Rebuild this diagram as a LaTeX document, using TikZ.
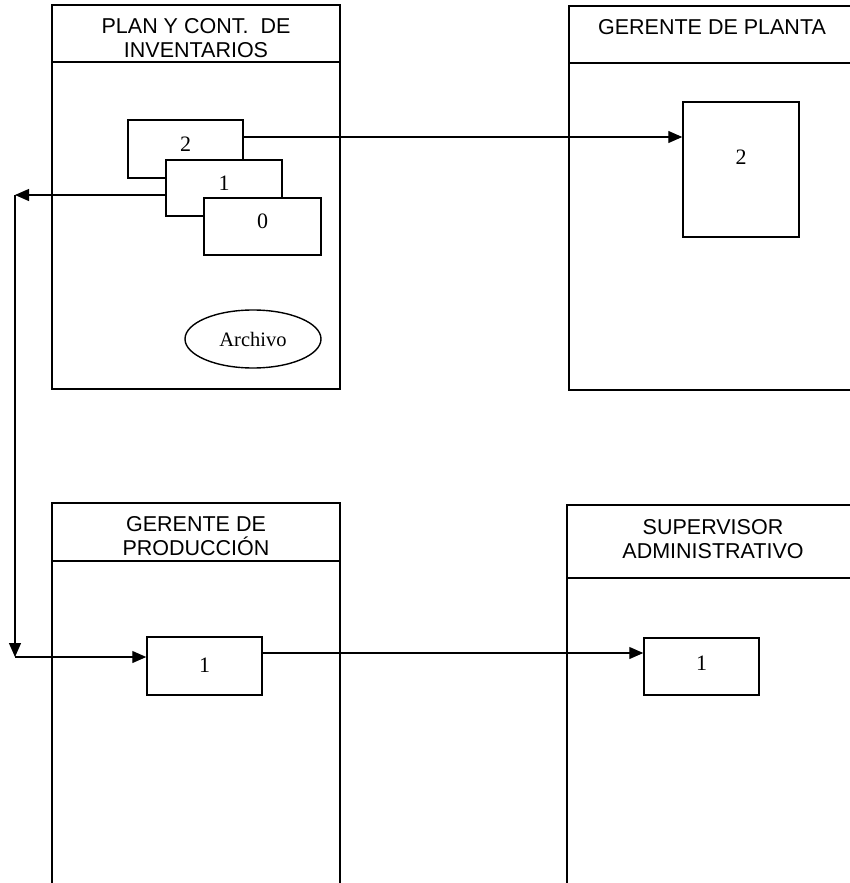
\documentclass[tikz,border=0pt]{standalone}
\usepackage{fontspec}
\setmainfont{Liberation Serif}
\newfontfamily\hdfont{Liberation Sans}
\usetikzlibrary{arrows.meta,shapes.geometric}
\tikzset{
  panel/.style={line width=1.6pt},
  hdr/.style={font=\hdfont\fontsize{21.5}{24}\selectfont, align=center, inner sep=0pt},
  docbox/.style={draw, line width=1.5pt, fill=white, inner sep=0pt},
  num/.style={font=\fontsize{22}{24}\selectfont, inner sep=0pt},
  arr/.style={line width=1.2pt, -{Triangle[length=14pt,width=12pt]}},
  plain/.style={line width=1.2pt}
}
\begin{document}
\begin{tikzpicture}[x=1pt,y=-1pt]
\useasboundingbox (0,0) rectangle (850,883);
\clip (0,0) rectangle (850,883);
% panels
\draw[panel] (52,5) rectangle (340,389);
\draw[panel] (52,62) -- (340,62);
\node[hdr] (h1) at (196,38) {PLAN Y CONT.\ \ DE\\INVENTARIOS};
\draw[panel] (860,6) -- (569,6) -- (569,390) -- (860,390);
\draw[panel] (569,63) -- (860,63);
\node[hdr] (h2) at (712,27) {GERENTE DE PLANTA};
\draw[panel] (52,890) -- (52,503) -- (340,503) -- (340,890);
\draw[panel] (52,561) -- (340,561);
\node[hdr] (h3) at (196,536) {GERENTE DE\\PRODUCCIÓN};
\draw[panel] (567,890) -- (567,505) -- (860,505);
\draw[panel] (567,578) -- (860,578);
\node[hdr] (h4) at (713,539) {SUPERVISOR\\ADMINISTRATIVO};
% documents stack
\node[docbox, minimum width=115pt, minimum height=58pt] (d2) at (185.5,149) {};
\node[num] (t2) at (185.5,144) {2};
\node[docbox, minimum width=116pt, minimum height=56pt] (d1) at (224,188) {};
\node[num] (t1) at (224,183) {1};
\node[docbox, minimum width=117pt, minimum height=57pt] (d0) at (262.5,226.5) {};
\node[num] (t0) at (262.5,221) {0};
\node[draw, ellipse, line width=1.4pt, minimum width=136pt, minimum height=58pt, inner sep=0pt, font=\fontsize{20.5}{24}\selectfont] (arch) at (253,339) {Archivo};
% gerente de planta box
\node[docbox, minimum width=116pt, minimum height=135pt] (b2) at (741,169.5) {};
\node[num] (tb2) at (741,157) {2};
% bottom boxes
\node[docbox, minimum width=115pt, minimum height=58pt] (p1) at (204.5,666) {};
\node[num] (tp1) at (204.5,665) {1};
\node[docbox, minimum width=115pt, minimum height=57pt] (s1) at (701.5,666.5) {};
\node[num] (ts1) at (701.5,663) {1};
% connectors
\coordinate (c1) at (15,195);
\coordinate (c2) at (15,657);
\coordinate (a2) at ([yshift=12pt]d2.east);
\draw[arr] (a2) -- (a2 -| b2.west);
\draw[arr] ([yshift=-7pt]d1.west) -- (c1);
\draw[arr] (c1) -- (c2);
\draw[arr] (c2) -- (c2 -| p1.west);
\coordinate (a3) at ([yshift=13pt]p1.east);
\draw[arr] (a3) -- (a3 -| s1.west);
\end{tikzpicture}
\end{document}
